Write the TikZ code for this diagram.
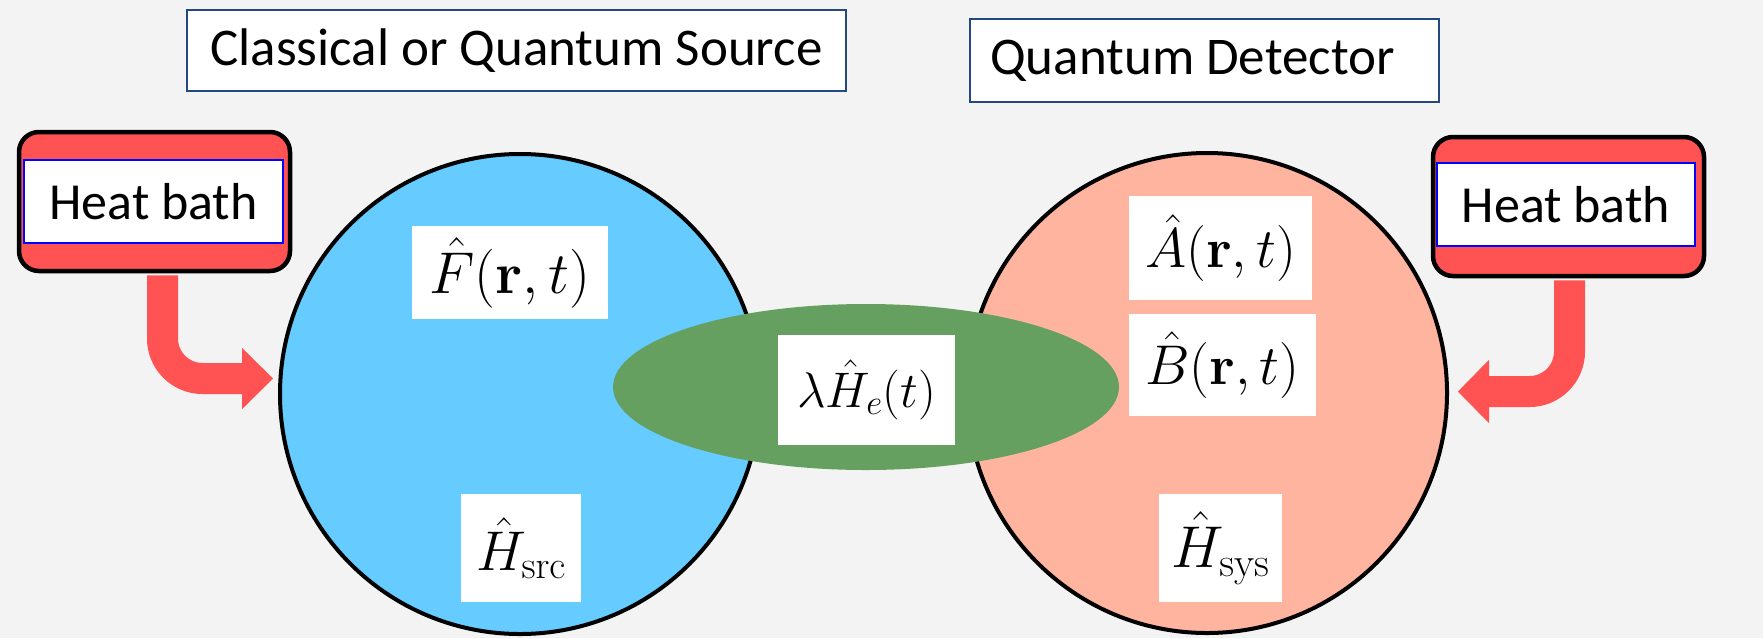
\RequirePackage{fix-cm}
\documentclass[tikz,border=0pt]{standalone}
\usepackage[no-math]{fontspec}
\newfontfamily\calibri{Carlito}
\usetikzlibrary{arrows.meta,shapes.geometric}
\definecolor{bgc}{RGB}{243,243,243}
\definecolor{heatred}{RGB}{255,82,82}
\definecolor{srcblue}{RGB}{102,204,255}
\definecolor{detsalmon}{RGB}{255,180,160}
\definecolor{coupgreen}{RGB}{102,160,96}
\definecolor{titleblue}{RGB}{35,72,128}
\tikzset{
  sysdisc/.style={circle, draw=black, line width=4pt, minimum size=480pt, inner sep=0pt},
  lbl/.style={fill=white, inner sep=0pt},
  titlebox/.style={draw=titleblue, line width=2.2pt, fill=white, inner sep=0pt,
    font=\calibri\fontsize{53}{60}\selectfont},
  bathouter/.style={draw=black, line width=4.5pt, fill=heatred, rounded corners=20pt,
    minimum width=271pt, minimum height=139pt, inner sep=0pt},
  bathinner/.style={draw=blue, line width=2pt, fill=white, minimum width=258pt,
    minimum height=83pt, inner sep=0pt, font=\calibri\fontsize{52}{60}\selectfont},
  hotarrow/.style={draw=heatred, line width=31pt, rounded corners=40pt},
}
\begin{document}
\begin{tikzpicture}[x=1pt,y=-1pt]
\useasboundingbox (0,0) rectangle (1763,638);
\fill[bgc] (0,0) rectangle (1763,638);

% titles
\node[titlebox, minimum width=659pt, minimum height=81pt] (srcT) at (516.5,50.5) {Classical or Quantum Source};
\node[titlebox, minimum width=469pt, minimum height=83pt] (detT) at (1204.5,60.5) {Quantum Detector\kern24pt\relax};

% systems
\node[sysdisc, fill=srcblue] (src) at (520,394) {};
\node[sysdisc, fill=detsalmon] (det) at (1207,393) {};
\node[ellipse, fill=coupgreen, minimum width=506pt, minimum height=166pt, inner sep=0pt] (coup) at (866,387) {};

% labels
\node[lbl, minimum width=196pt, minimum height=93pt, font=\fontsize{59}{60}\selectfont] (F) at (510,272.5) {$\hat{F}(\mathbf{r},t)$};
\node[lbl, minimum width=120pt, minimum height=108pt, font=\fontsize{56}{60}\selectfont] (Hsrc) at (521,548) {$\hat{H}_{\mathrm{src}}$};
\node[lbl, minimum width=183pt, minimum height=104pt, font=\fontsize{56}{60}\selectfont] (A) at (1220.5,248) {$\hat{A}(\mathbf{r},t)$};
\node[lbl, minimum width=187pt, minimum height=102pt, font=\fontsize{56}{60}\selectfont] (B) at (1222.5,365) {$\hat{B}(\mathbf{r},t)$};
\node[lbl, minimum width=123pt, minimum height=108pt, font=\fontsize{59}{60}\selectfont] (Hsys) at (1220.5,548) {$\hat{H}_{\mathrm{sys}}$};
\node[lbl, minimum width=177pt, minimum height=110pt, font=\fontsize{50}{55}\selectfont] (He) at (866.5,390) {$\lambda\hat{H}_e(t)$};

% heat baths
\node[bathouter] (hbL) at (154.5,201.5) {};
\node[bathinner, minimum width=259pt] (hbLt) at (153.5,201.5) {Heat bath};
\node[bathouter] (hbR) at (1568.5,206.5) {};
\node[bathinner] (hbRt) at (1566,204.5) {Heat bath};

% arrows
\coordinate (tipL) at (273,378.5);
\coordinate (tipR) at (1458,391.5);
\draw[hotarrow, -{Triangle[width=61pt,length=31pt,line width=0.1pt]}] ([xshift=8pt,yshift=-2pt]hbL.south) |- (tipL);
\draw[hotarrow, -{Triangle[width=63pt,length=31pt,line width=0.1pt]}] ([xshift=1pt,yshift=-2pt]hbR.south) |- (tipR);
\end{tikzpicture}
\end{document}
